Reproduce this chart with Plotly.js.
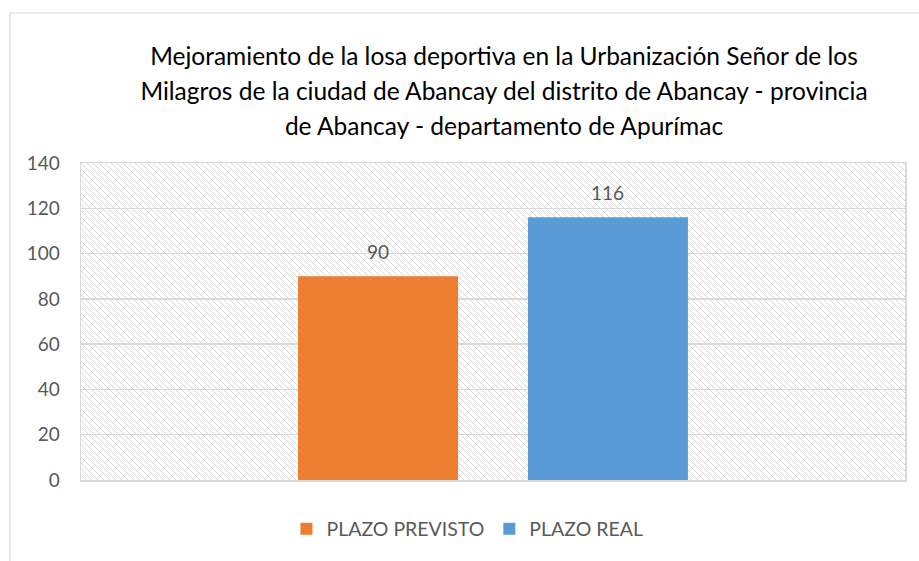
<!DOCTYPE html>
<html>
<head>
<meta charset="utf-8">
<script src="https://cdn.plot.ly/plotly-3.0.1.min.js"></script>
<style>html,body{margin:0;padding:0;background:#fff;}#chart{width:919px;height:561px;}</style>
</head>
<body>
<div id="chart"></div>
<script>
// ---- data ----
const categories = ["Plazo"];
const seriesNames = ["PLAZO PREVISTO", "PLAZO REAL"];
const plazoPrevisto = [90];
const plazoReal = [116];
const yTickValues = [0, 20, 40, 60, 80, 100, 120, 140];
const titleLines = [
  "Mejoramiento de la losa deportiva en la Urbanización Señor de los",
  "Milagros de la ciudad de Abancay del distrito de Abancay - provincia",
  "de Abancay - departamento de Apurímac"
];

// ---- styling ----
const FONT = "Lato, 'Open Sans', sans-serif";
const colors = ["#ED7D31", "#5B9BD5"];
const W = 919, H = 561;
const margin = {l: 81, r: 14, t: 163, b: 81};
const plotW = W - margin.l - margin.r;
const plotH = H - margin.t - margin.b;
const bargap = 0.442, bargroupgap = 0.304;

// hatch background as an inline SVG image
const hatchSvg =
  '<svg xmlns="http://www.w3.org/2000/svg" width="' + plotW + '" height="' + plotH + '">' +
  '<defs><pattern id="h" width="6" height="6" patternUnits="userSpaceOnUse">' +
  '<path d="M-1,-1 L7,7 M-1,5 L1,7 M5,-1 L7,1" stroke="#d6d6d6" stroke-width="1"/>' +
  '</pattern></defs><rect width="100%" height="100%" fill="url(#h)"/></svg>';
const hatchUri = "data:image/svg+xml;charset=utf-8," + encodeURIComponent(hatchSvg);

const allSeries = [plazoPrevisto, plazoReal];
const traces = allSeries.map((vals, i) => ({
  type: "bar",
  name: seriesNames[i],
  x: categories,
  y: vals,
  marker: {color: colors[i]},
  hoverinfo: "skip"
}));

const slotPx = plotW * (1 - bargap) / allSeries.length;
const labelAnns = [];
allSeries.forEach((vals, i) => {
  vals.forEach((v, j) => {
    labelAnns.push({
      x: categories[j], y: v, xref: "x", yref: "y",
      text: String(v), showarrow: false,
      xanchor: "center", yanchor: "bottom",
      xshift: (i - (allSeries.length - 1) / 2) * slotPx,
      yshift: 11,
      font: {family: FONT, size: 19, color: "#595959"}
    });
  });
});

const titleText = titleLines.map(t => '<span style="font-size:24.5px">' + t + '</span>').join("<br>");

const layout = {
  width: W, height: H,
  margin: margin,
  paper_bgcolor: "#ffffff",
  plot_bgcolor: "rgba(0,0,0,0)",
  font: {family: FONT, color: "#595959"},
  title: {
    text: titleText,
    font: {family: FONT, size: 27, color: "#000000"},
    xref: "container", yref: "container",
    x: 504 / W, xanchor: "center",
    y: 1 - 65 / H, yanchor: "top"
  },
  barmode: "group",
  bargap: bargap,
  bargroupgap: bargroupgap,
  showlegend: true,
  legend: {
    orientation: "h",
    x: 0.469, xanchor: "center",
    y: -0.155, yanchor: "middle",
    font: {family: FONT, size: 19.5, color: "#595959"},
    itemclick: false
  },
  xaxis: {
    type: "category",
    showticklabels: false,
    ticks: "",
    showgrid: false,
    showline: true, mirror: true, linecolor: "#d9d9d9", linewidth: 1.5,
    fixedrange: true
  },
  yaxis: {
    range: [0, 140],
    tickvals: yTickValues,
    ticktext: yTickValues.map(String),
    ticks: "",
    ticklabelstandoff: 16,
    tickfont: {family: FONT, size: 19, color: "#595959"},
    showgrid: true, gridcolor: "#d9d9d9", gridwidth: 1.5,
    zeroline: false,
    showline: true, mirror: true, linecolor: "#d9d9d9", linewidth: 1.5,
    fixedrange: true
  },
  images: [{
    source: hatchUri,
    xref: "paper", yref: "paper",
    x: 0, y: 1, sizex: 1, sizey: 1,
    xanchor: "left", yanchor: "top",
    sizing: "stretch", layer: "below"
  }],
  shapes: [{
    type: "rect", xref: "paper", yref: "paper",
    x0: (10 - margin.l) / plotW, x1: (W + 10 - margin.l) / plotW,
    y0: -(H + 10 - (H - margin.b)) / plotH, y1: ((H - margin.b) - 13) / plotH,
    line: {color: "#d9d9d9", width: 1.2},
    fillcolor: "rgba(0,0,0,0)", layer: "below"
  }],
  annotations: labelAnns
};

Plotly.newPlot("chart", traces, layout, {displayModeBar: false, staticPlot: true});
</script>
</body>
</html>
